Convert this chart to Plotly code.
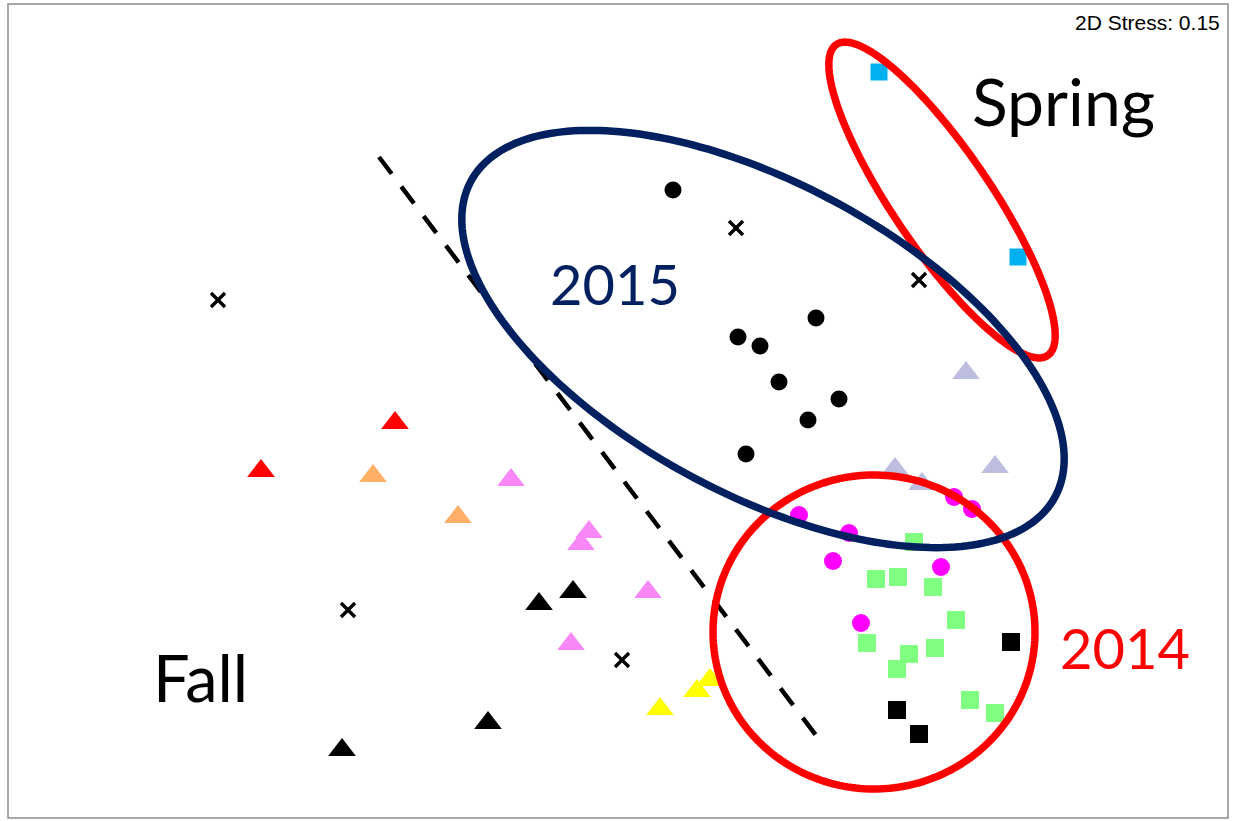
import numpy as np
import plotly.graph_objects as go

# ---- data (positions, in picture units) ----
circ2015_x = [673, 816, 738, 760, 779, 839, 808, 746]
circ2015_y = [190, 318, 337, 346, 382, 399, 420, 454]

cross_x = [218, 736, 919, 348, 622]
cross_y = [300, 228, 280, 610, 660]

blue_sq_x = [879, 1018]
blue_sq_y = [72, 257]

lav_tri_x = [966, 895, 995, 922]
lav_tri_y = [373, 469, 467, 484]

mag_circ_x = [799, 849, 833, 954, 972, 941, 861]
mag_circ_y = [515, 533, 561, 497, 509, 567, 623]

green_sq_x = [914, 876, 898, 933, 956, 867, 909, 935, 897, 970, 995]
green_sq_y = [542, 579, 577, 587, 620, 643, 654, 648, 669, 700, 713]

black_sq_x = [1011, 897, 919]
black_sq_y = [642, 710, 734]

red_tri_x = [395, 261]
red_tri_y = [423, 471]

orange_tri_x = [373, 458]
orange_tri_y = [476, 517]

pink_tri_x = [511, 589, 581, 648, 571]
pink_tri_y = [480, 532, 544, 592, 644]

black_tri_x = [539, 573, 488, 342]
black_tri_y = [604, 592, 723, 750]

yellow_tri_x = [660, 697, 710]
yellow_tri_y = [709, 691, 680]

# group ellipses: (cx, cy, semi-major, semi-minor, angle deg)
ell_2015 = (763, 339, 332, 155, 28.4)
ell_spring = (942, 200, 188, 49, 55.8)
ell_2014 = (874, 632, 161, 157, 0)

divider_x = [379, 821]
divider_y = [157, 742]

fig = go.Figure()

def add_pts(x, y, symbol, color, size, line=None):
    m = dict(symbol=symbol, color=color, size=size)
    m["line"] = line if line else dict(width=0)
    fig.add_trace(go.Scatter(x=x, y=y, mode="markers", marker=m, showlegend=False, hoverinfo="skip"))

TRI = 24
add_pts(red_tri_x, red_tri_y, "triangle-up", "#FF0000", TRI)
add_pts(orange_tri_x, orange_tri_y, "triangle-up", "#FFB066", TRI)
add_pts(pink_tri_x, pink_tri_y, "triangle-up", "#F888F8", TRI)
add_pts(black_tri_x, black_tri_y, "triangle-up", "#000000", TRI)
add_pts(yellow_tri_x, yellow_tri_y, "triangle-up", "#FFFF00", TRI)
add_pts(lav_tri_x, lav_tri_y, "triangle-up", "#BDBDE0", TRI)
add_pts(circ2015_x, circ2015_y, "circle", "#000000", 17)
add_pts(mag_circ_x, mag_circ_y, "circle", "#FF00FF", 18)
add_pts(green_sq_x, green_sq_y, "square", "#80FF80", 18)
add_pts(black_sq_x, black_sq_y, "square", "#000000", 18)
add_pts(blue_sq_x, blue_sq_y, "square", "#00B0F0", 17)
fig.add_trace(go.Scatter(x=cross_x, y=cross_y, mode="markers", showlegend=False, hoverinfo="skip",
                         marker=dict(symbol="x-thin", size=14, line=dict(width=3.4, color="#000000"))))

def ellipse_path(cx, cy, a, b, ang):
    t = np.linspace(0, 2 * np.pi, 240)
    th = np.deg2rad(ang)
    xs = cx + a * np.cos(t) * np.cos(th) - b * np.sin(t) * np.sin(th)
    ys = cy + a * np.cos(t) * np.sin(th) + b * np.sin(t) * np.cos(th)
    return "M " + " L ".join(f"{x:.2f},{y:.2f}" for x, y in zip(xs, ys)) + " Z"

shapes = [
    dict(type="rect", xref="x", yref="y", x0=8, y0=4, x1=1228, y1=818,
         line=dict(color="#8C8C8C", width=1.5), layer="below"),
    dict(type="line", xref="x", yref="y", x0=divider_x[0], y0=divider_y[0], x1=divider_x[1], y1=divider_y[1],
         line=dict(color="black", width=4.5, dash="21px,16px")),
    dict(type="path", xref="x", yref="y", path=ellipse_path(*ell_2014), line=dict(color="#FF0000", width=7.5)),
    dict(type="path", xref="x", yref="y", path=ellipse_path(*ell_spring), line=dict(color="#FF0000", width=7.5)),
    dict(type="path", xref="x", yref="y", path=ellipse_path(*ell_2015), line=dict(color="#002060", width=7.5)),
]

FONT = "Lato, Carlito, 'Open Sans', sans-serif"
annotations = [
    dict(x=1063, y=100, text="Spring", font=dict(family=FONT, size=66, color="black")),
    dict(x=615, y=283, text="2015", font=dict(family=FONT, size=56, color="#002060")),
    dict(x=1125, y=647, text="2014", font=dict(family=FONT, size=56, color="#FF0000")),
    dict(x=200, y=677, text="Fall", font=dict(family=FONT, size=65, color="black")),
    dict(x=1222, y=22, text="2D Stress: 0.15", xanchor="right",
         font=dict(family="Liberation Sans, Arial, sans-serif", size=21, color="black")),
]
for an in annotations:
    an.update(xref="x", yref="y", showarrow=False)
    an.setdefault("xanchor", "center")
    an["yanchor"] = "middle"

fig.update_layout(
    width=1235, height=821,
    margin=dict(l=0, r=0, t=0, b=0),
    paper_bgcolor="white", plot_bgcolor="white",
    xaxis=dict(range=[0, 1235], visible=False, fixedrange=True),
    yaxis=dict(range=[821, 0], visible=False, fixedrange=True),
    shapes=shapes, annotations=annotations,
)

fig.write_html("out.html")
